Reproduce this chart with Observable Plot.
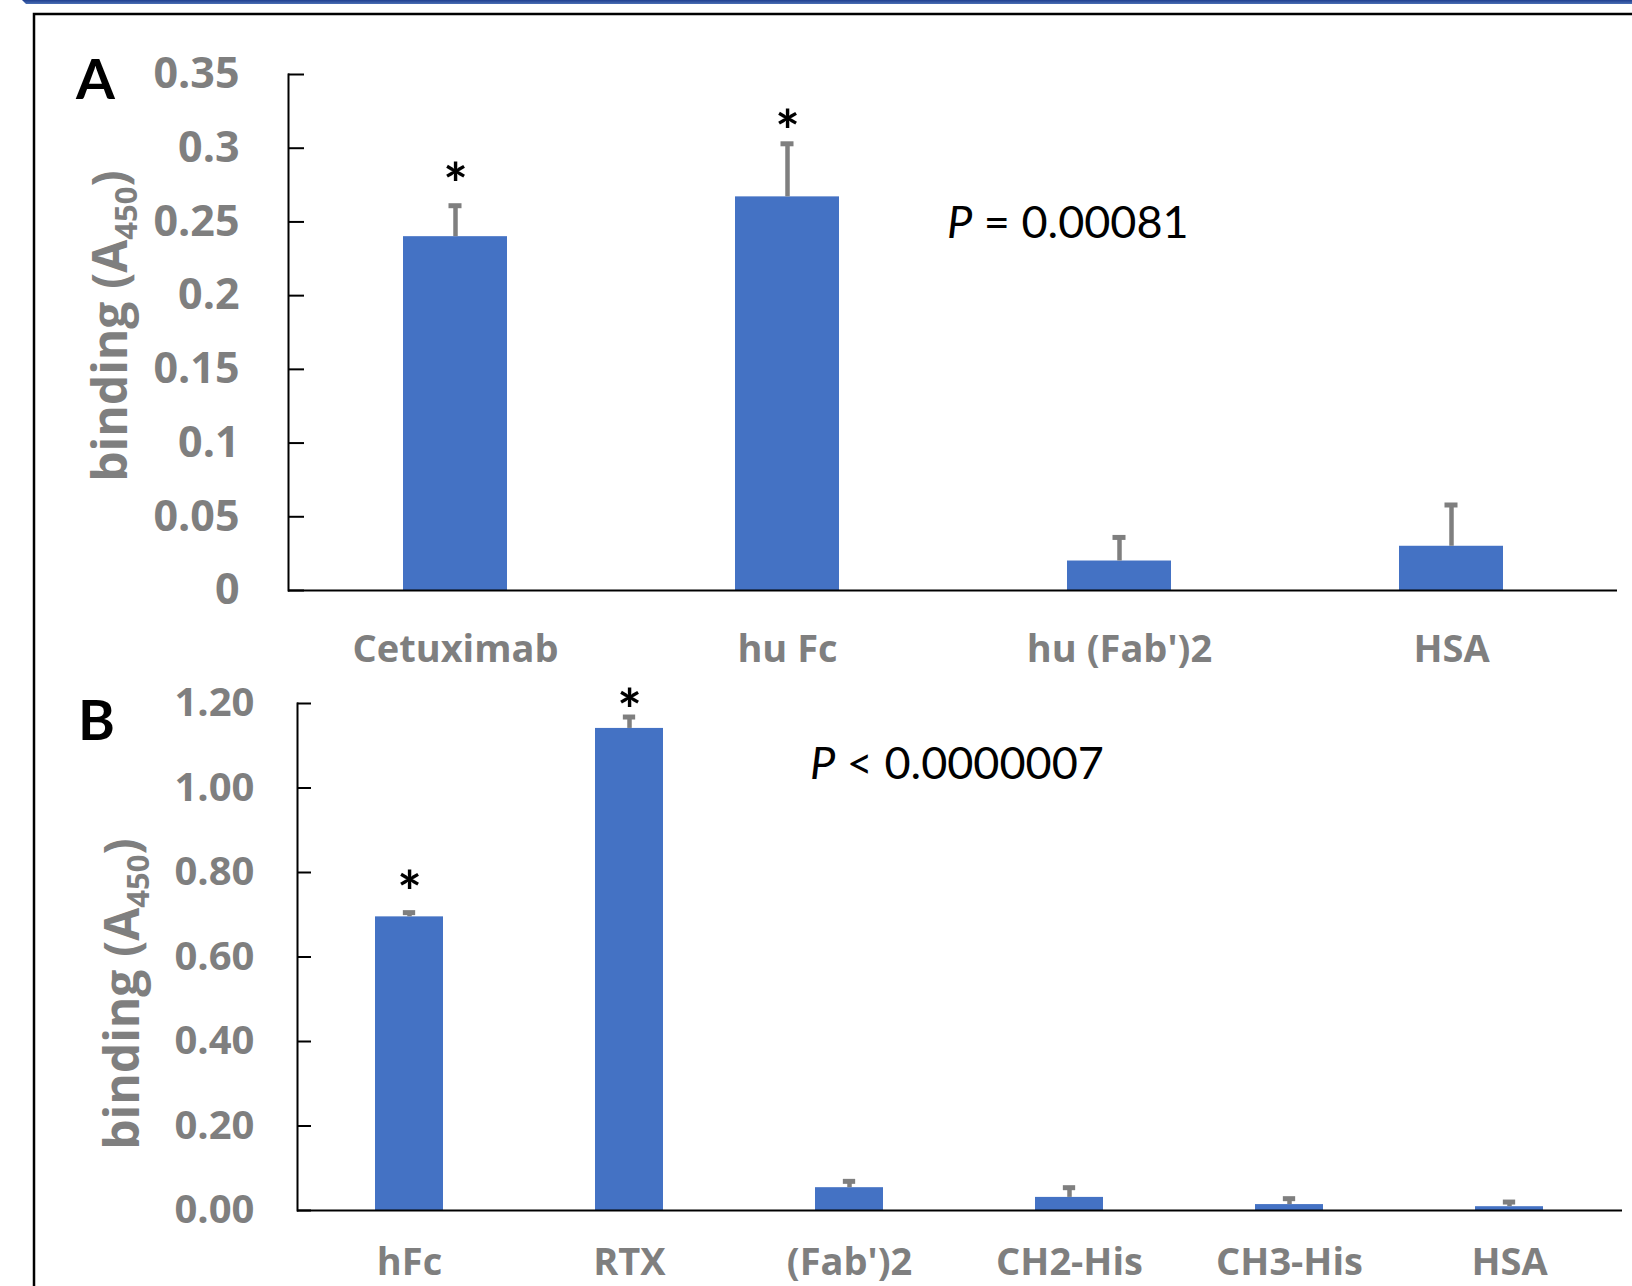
<!DOCTYPE html>
<html>
<head>
<meta charset="utf-8">
<script src="https://cdn.jsdelivr.net/npm/d3@7"></script>
<script src="https://cdn.jsdelivr.net/npm/@observablehq/plot@0.6"></script>
<style>
  html, body { margin: 0; padding: 0; background: #fff; }
  #wrap { position: relative; width: 1632px; height: 1286px; overflow: hidden; background: #fff; font-family: Lato, "Open Sans", sans-serif; }
  #wrap > * { position: absolute; }
  #deco { left: 0; top: 0; }
</style>
</head>
<body>
<div id="wrap"></div>
<script>
// ---------- Data: panel A ----------
const catsA = ["Cetuximab", "hu Fc", "hu (Fab')2", "HSA"];
const meanA = [0.240, 0.267, 0.020, 0.030];
const errA  = [0.021, 0.036, 0.016, 0.028];
const starA = [0.284, 0.320, null, null];
const yTicksA = [0, 0.05, 0.1, 0.15, 0.2, 0.25, 0.3, 0.35];
const pTextA = "0.00081";

// ---------- Data: panel B ----------
const catsB = ["hFc", "RTX", "(Fab')2", "CH2-His", "CH3-His", "HSA"];
const meanB = [0.695, 1.141, 0.054, 0.031, 0.014, 0.009];
const errB  = [0.010, 0.027, 0.015, 0.023, 0.014, 0.011];
const starB = [0.784, 1.214, null, null, null, null];
const yTicksB = [0, 0.2, 0.4, 0.6, 0.8, 1.0, 1.2];
const pTextB = "0.0000007";

const BLUE = "#4472C4";
const GRAY = "#7f7f7f";
const W = 1632;
const BOLDFONT = "'Open Sans', Lato, sans-serif";

function table(cats, mean, err, star) {
  return cats.map((c, i) => ({cat: c, mean: mean[i], top: mean[i] + err[i], star: star[i]}));
}

function panel({cats, data, yDomain, yTicks, fmt, top, height, mL, mR, mT, mB,
                tickPad, tickFont, xFont, xPad, tickLen, barFrac}) {
  const frameW = W - mL - mR;
  const step = frameW / cats.length;
  const bw = step * barFrac;
  const capW = 13;
  const chart = Plot.plot({
    width: W, height, marginLeft: mL, marginRight: mR, marginTop: mT, marginBottom: mB,
    x: {domain: cats, paddingInner: 1 - barFrac, paddingOuter: (1 - barFrac) / 2, label: null},
    y: {domain: yDomain, label: null},
    style: {fontFamily: BOLDFONT, background: "transparent", overflow: "visible"},
    marks: [
      Plot.barY(data, {x: "cat", y: "mean", fill: BLUE}),
      Plot.ruleX(data, {x: "cat", y1: "mean", y2: "top", stroke: GRAY, strokeWidth: 4.5}),
      Plot.tickY(data, {x: "cat", y: "top", stroke: GRAY, strokeWidth: 5,
                        insetLeft: (bw - capW) / 2, insetRight: (bw - capW) / 2}),
      Plot.text(data.filter(d => d.star != null), {x: "cat", y: "star", text: () => "*",
                fontSize: 58, fontWeight: "bold", fontFamily: "Lato, sans-serif", fill: "black", dy: 15}),
      Plot.axisY({ticks: yTicks, tickSize: 0, tickPadding: tickPad, tickFormat: fmt,
                  fill: GRAY, fontSize: tickFont, fontWeight: "bold"}),
      Plot.ruleY(yTicks, {stroke: "black", strokeWidth: 2, insetRight: frameW - tickLen}),
      Plot.frame({anchor: "left", stroke: "black", strokeWidth: 2}),
      Plot.ruleY([0], {stroke: "black", strokeWidth: 2}),
      Plot.axisX({tickSize: 0, tickPadding: xPad, fill: GRAY, fontSize: xFont, fontWeight: "bold"})
    ]
  });
  chart.style.left = "0px";
  chart.style.top = top + "px";
  return chart;
}

const wrap = document.getElementById("wrap");

wrap.appendChild(panel({
  cats: catsA, data: table(catsA, meanA, errA, starA), yDomain: [0, 0.35], yTicks: yTicksA,
  fmt: d3.format("~g"), top: 0, height: 680, mL: 288, mR: 15, mT: 74, mB: 90,
  tickPad: 49, tickFont: 43, xFont: 38, xPad: 45, tickLen: 16, barFrac: 0.313
}));

wrap.appendChild(panel({
  cats: catsB, data: table(catsB, meanB, errB, starB), yDomain: [0, 1.2], yTicks: yTicksB,
  fmt: d3.format(".2f"), top: 680, height: 606, mL: 297, mR: 10, mT: 23, mB: 76,
  tickPad: 43, tickFont: 40, xFont: 38, xPad: 38, tickLen: 14, barFrac: 0.311
}));

// ---------- Decoration & annotations ----------
const svg = d3.select(wrap).append("svg").attr("id", "deco")
  .attr("width", W).attr("height", 1286)
  .style("pointer-events", "none")
  .style("font-family", "Lato, 'Open Sans', sans-serif");

const grad = svg.append("defs").append("linearGradient").attr("id", "bg")
  .attr("x1", 0).attr("y1", 0).attr("x2", 0).attr("y2", 1);
grad.append("stop").attr("offset", "0").attr("stop-color", "#1f3f8f");
grad.append("stop").attr("offset", "1").attr("stop-color", "#4a6fb5");
svg.append("path").attr("d", "M22,0 H1632 V4 H26 Z").attr("fill", "url(#bg)");

svg.append("path").attr("d", "M34,1286 V14 H1632").attr("fill", "none")
  .attr("stroke", "black").attr("stroke-width", 2.5);

svg.append("text").attr("x", 76).attr("y", 99).attr("font-size", 56)
  .attr("font-weight", "bold").attr("fill", "black").text("A");
svg.append("text").attr("x", 78).attr("y", 740).attr("font-size", 56)
  .attr("font-weight", "bold").attr("fill", "black").text("B");

function yTitle(x, y) {
  const t = svg.append("text").attr("transform", `translate(${x},${y}) rotate(-90)`)
    .attr("text-anchor", "middle").attr("font-size", 48).attr("font-weight", "bold")
    .attr("font-family", BOLDFONT).attr("fill", GRAY);
  t.append("tspan").text("binding (A");
  t.append("tspan").attr("font-size", 31).attr("dy", 10).text("450");
  t.append("tspan").attr("dy", -10).text(")");
}
yTitle(127, 326);
yTitle(139, 994);

function pText(x, y, rel, val) {
  const t = svg.append("text").attr("x", x).attr("y", y).attr("font-size", 45).attr("fill", "black");
  t.append("tspan").attr("font-style", "italic").text("P");
  t.append("tspan").text(` ${rel} ${val}`);
}
pText(947, 238, "=", pTextA);
pText(810, 779, "<", pTextB);
</script>
</body>
</html>
